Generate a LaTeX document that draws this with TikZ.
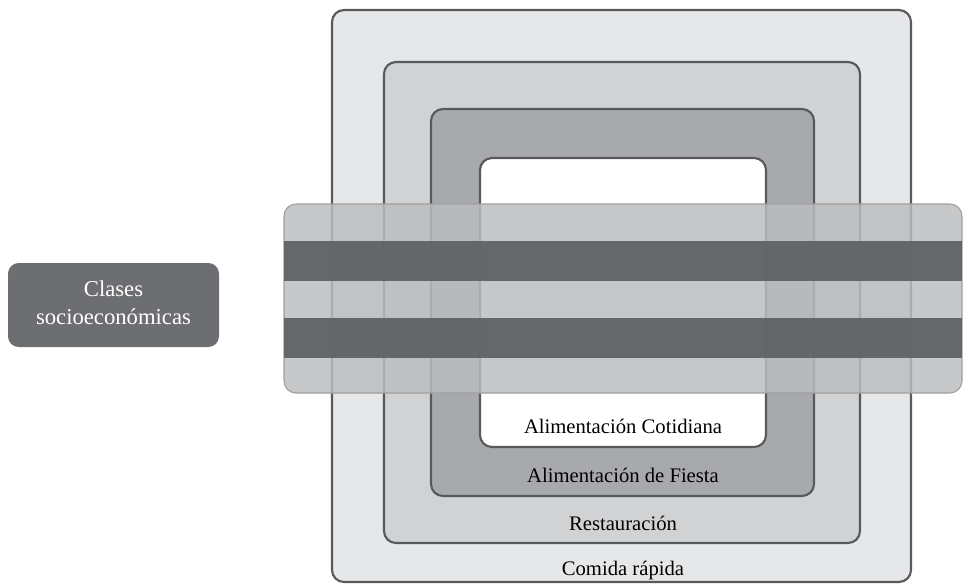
\documentclass[tikz,border=0pt]{standalone}
\usepackage{fontspec}
\setmainfont{Liberation Serif}
\definecolor{edge}{HTML}{58595B}
\definecolor{lvA}{HTML}{E6E7E8}
\definecolor{lvB}{HTML}{D1D2D4}
\definecolor{lvC}{HTML}{A7A9AC}
\definecolor{bandfill}{HTML}{BCBDBF}
\definecolor{stripe}{HTML}{5E5F61}
\definecolor{clsfill}{HTML}{6D6E71}
\tikzset{
  level/.style={draw=edge, line width=1.6pt, rounded corners=9pt},
  lbl/.style={font=\fontsize{15.5}{18}\selectfont, text=black, inner sep=0pt},
  bandbox/.style={draw=gray!75, line width=0.8pt, fill=bandfill, fill opacity=0.84, rounded corners=9pt},
  stripebox/.style={fill=stripe, fill opacity=0.92}
}
\begin{document}
\begin{tikzpicture}[x=0.75pt,y=-0.75pt]
\useasboundingbox (0,0) rectangle (965,587);
% nested levels
\draw[level, fill=lvA] (332,10) rectangle (911,582);
\draw[level, fill=lvB] (384,62) rectangle (860,543);
\draw[level, fill=lvC] (431,109) rectangle (814,496);
\draw[level, fill=white] (480,158) rectangle (766,447);
% labels
\node[lbl] (cot) at (623,426) {Alimentación Cotidiana};
\node[lbl] (fie) at (623,475) {Alimentación de Fiesta};
\node[lbl] (res) at (623,523) {Restauración};
\node[lbl] (com) at (623,571) {Comida rápida};
% band
\draw[bandbox] (284,204) rectangle (962,393);
\fill[stripebox] (284,241) rectangle (962,281);
\fill[stripebox] (284,318) rectangle (962,358);
% classes node
\fill[clsfill, rounded corners=8pt] (8,263) rectangle (219,347);
\node[text=white, align=center, font=\fontsize{17}{21}\selectfont, inner sep=0pt] (cls) at (113.5,303) {Clases\\socioeconómicas};
\end{tikzpicture}
\end{document}
